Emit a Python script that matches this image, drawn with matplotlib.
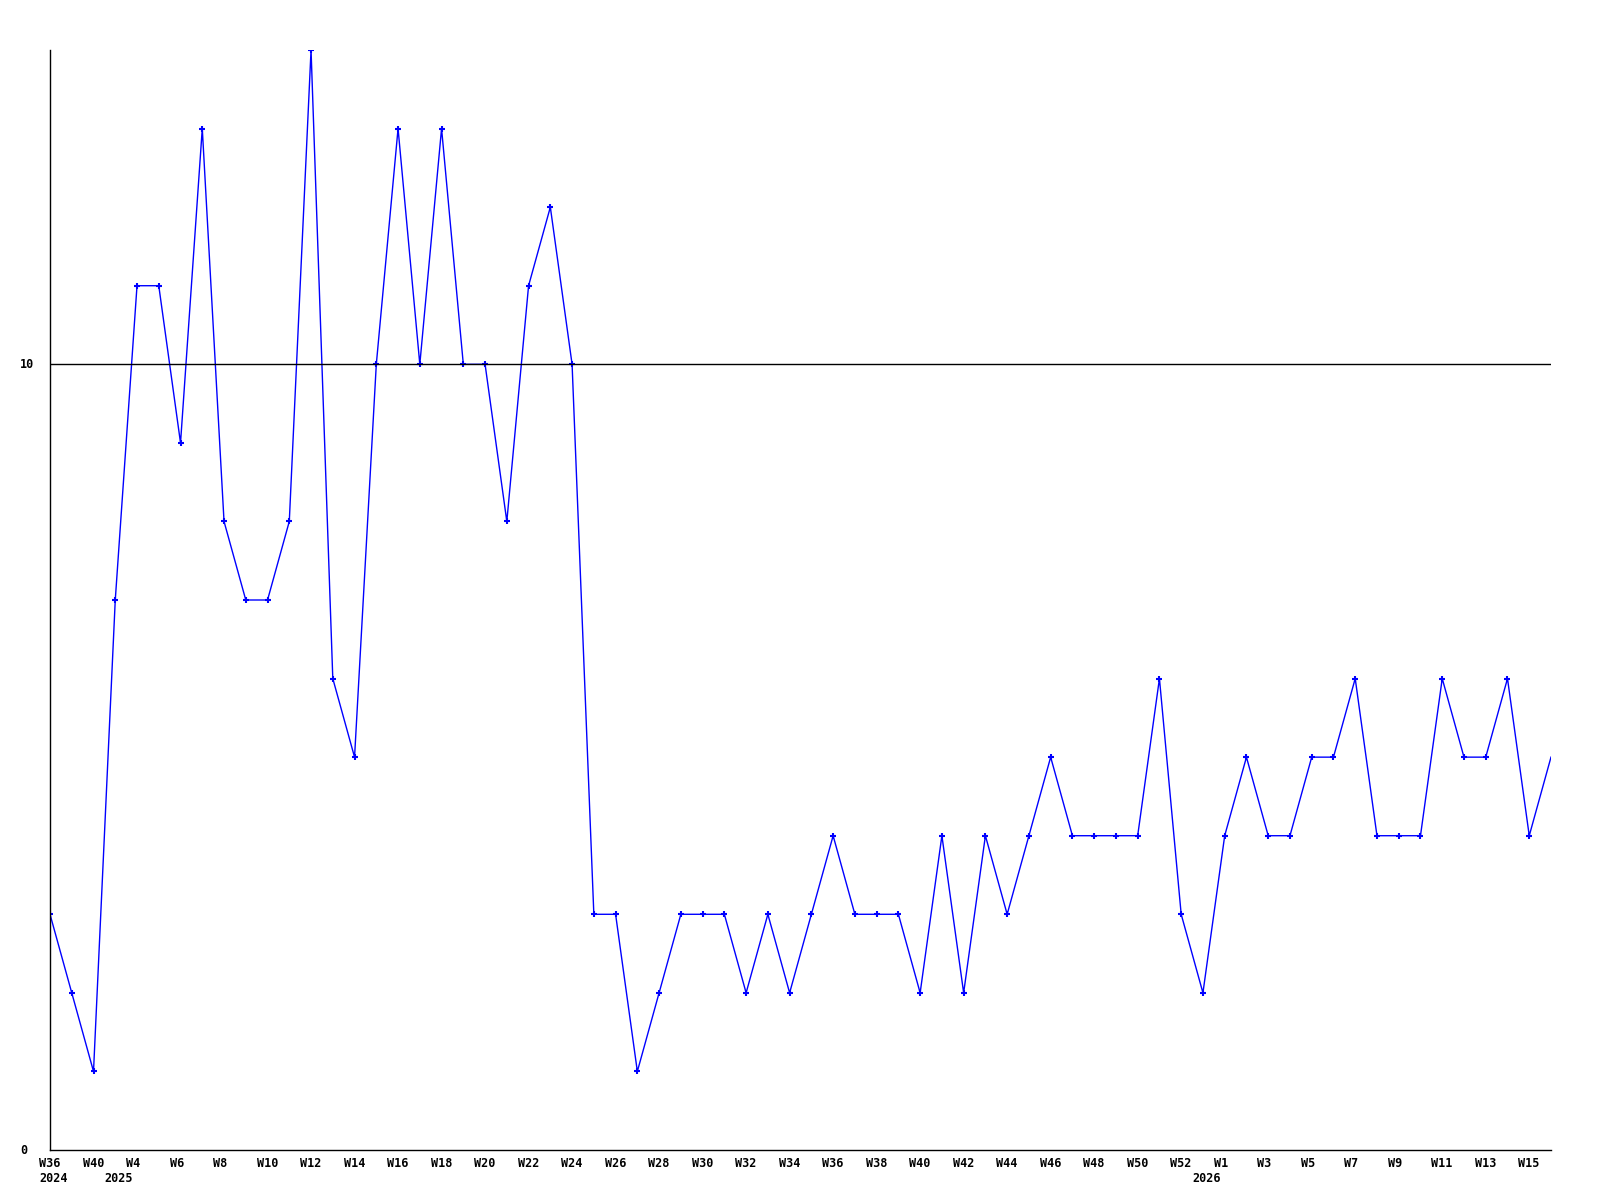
import matplotlib
matplotlib.use("Agg")
import matplotlib.pyplot as plt

# weekly values, one per point (left to right)
valores = [3, 2, 1, 7, 11, 11, 9, 13, 8, 7,
           7, 8, 14, 6, 5, 10, 13, 10, 13, 10,
           10, 8, 11, 12, 10, 3, 3, 1, 2, 3,
           3, 3, 2, 3, 2, 3, 4, 3, 3, 3,
           2, 4, 2, 4, 3, 4, 5, 4, 4, 4,
           4, 6, 3, 2, 4, 5, 4, 4, 5, 5,
           6, 4, 4, 4, 6, 5, 5, 6, 4, 5]

# labels on every second point
semanas = ["W36", "W40"] + ["W%d" % k for k in range(4, 53, 2)] + ["W%d" % k for k in range(1, 16, 2)]
anos_lbl = {0: "2024", 3: "2025", 53: "2026"}
y_ticks = [0, 10]
linha_ref = 10

fig = plt.figure(figsize=(16, 12), dpi=100)
ax = fig.add_axes([50 / 1600, 50 / 1200, 1501 / 1600, 1100 / 1200])

x = list(range(len(valores)))
ax.plot(x, valores, color="#0000ff", lw=1.0, marker="+", ms=5, mew=1.5,
        markevery=list(range(len(valores) - 1)))
ax.axhline(linha_ref, color="black", lw=1.0)

ax.set_xlim(0, len(valores) - 1)
ax.set_ylim(0, 14)
ax.set_xticks([])
ax.set_yticks([])
for s in ["top", "right"]:
    ax.spines[s].set_visible(False)
ax.spines["left"].set_linewidth(1.0)
ax.spines["bottom"].set_linewidth(1.0)

fonte = dict(family="DejaVu Sans Mono", weight="bold", fontsize=8.5)

for i, lbl in enumerate(semanas):
    idx = i * 2
    ax.annotate(lbl, xy=(idx, 0), xycoords=("data", "axes fraction"),
                xytext=(-11, -7), textcoords="offset pixels",
                ha="left", va="top", **fonte)
for idx, a in anos_lbl.items():
    ax.annotate(a, xy=(idx, 0), xycoords=("data", "axes fraction"),
                xytext=(-11, -22), textcoords="offset pixels",
                ha="left", va="top", **fonte)

for v in y_ticks:
    ax.annotate(str(v), xy=(0, v), xycoords=("axes fraction", "data"),
                xytext=(-30, 0), textcoords="offset pixels",
                ha="left", va="center", **fonte)

fig.savefig("out.png", dpi=100)
